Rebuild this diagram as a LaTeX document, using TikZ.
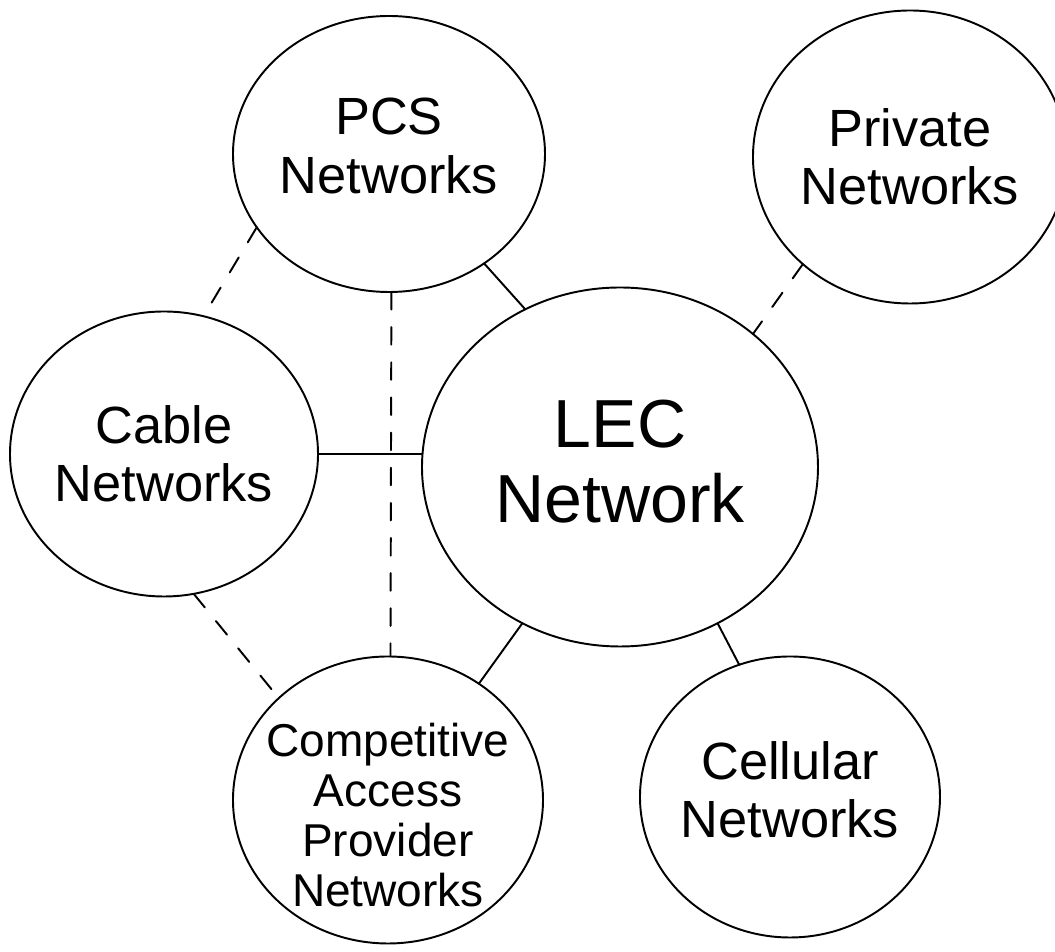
\documentclass[tikz,border=0pt]{standalone}
\usepackage{fontspec}
\setmainfont{Liberation Sans}
\usetikzlibrary{shapes.geometric}
\tikzset{
	net/.style={ellipse,draw,inner sep=0pt,outer sep=0pt},
	nettext/.style={align=center,font=\fontsize{14.9}{16.6}\selectfont},
	dashlink/.style={dash pattern=on 5pt off 5pt},
}
\begin{document}
\begin{tikzpicture}[line join=round,line cap=round,line width=0.55pt]
	\useasboundingbox (0,0) rectangle (10.55,9.52);
	\path 
	(3.89,7.98) node[net,minimum width=3.12cm,minimum height=2.76cm,label={[nettext,yshift=0.08cm]center:PCS\\Networks}] (pcs) {}
	(9.10,7.95) node[net,minimum width=3.14cm,minimum height=2.93cm,label={[nettext]center:Private\\Networks}] (priv) {}
	(1.64,4.98) node[net,minimum width=3.08cm,minimum height=2.85cm,label={[nettext]center:Cable\\Networks}] (cable) {}
	(6.20,4.85) node[net,minimum width=3.96cm,minimum height=3.59cm,label={[nettext,font=\fontsize{19.35}{21.3}\selectfont,yshift=0.05cm]center:LEC\\Network}] (lec) {}
	(3.88,1.52) node[net,minimum width=3.10cm,minimum height=2.87cm,label={[nettext,font=\fontsize{13.1}{14.2}\selectfont,yshift=-0.15cm]center:Competitive\\Access\\Provider\\Networks}] (comp) {}
	(7.90,1.55) node[net,minimum width=3.00cm,minimum height=2.81cm,label={[nettext,yshift=0.07cm]center:Cellular\\Networks}] (cell) {}
	;
	\draw (pcs.-49)--(lec.121.5) (cable.0.7)--(cable.0.7-|lec.west) (lec.-122)--(comp.52.7) (lec.-58.8)--(cell.111.9);
	\draw[dashlink] (priv.-135.8)--(lec.45.4) (pcs.-151.1)--(cable.74.9) (pcs.-89.6)--(comp.89.2) (cable.-78.2)--(comp.137.1);
\end{tikzpicture}
\end{document}
